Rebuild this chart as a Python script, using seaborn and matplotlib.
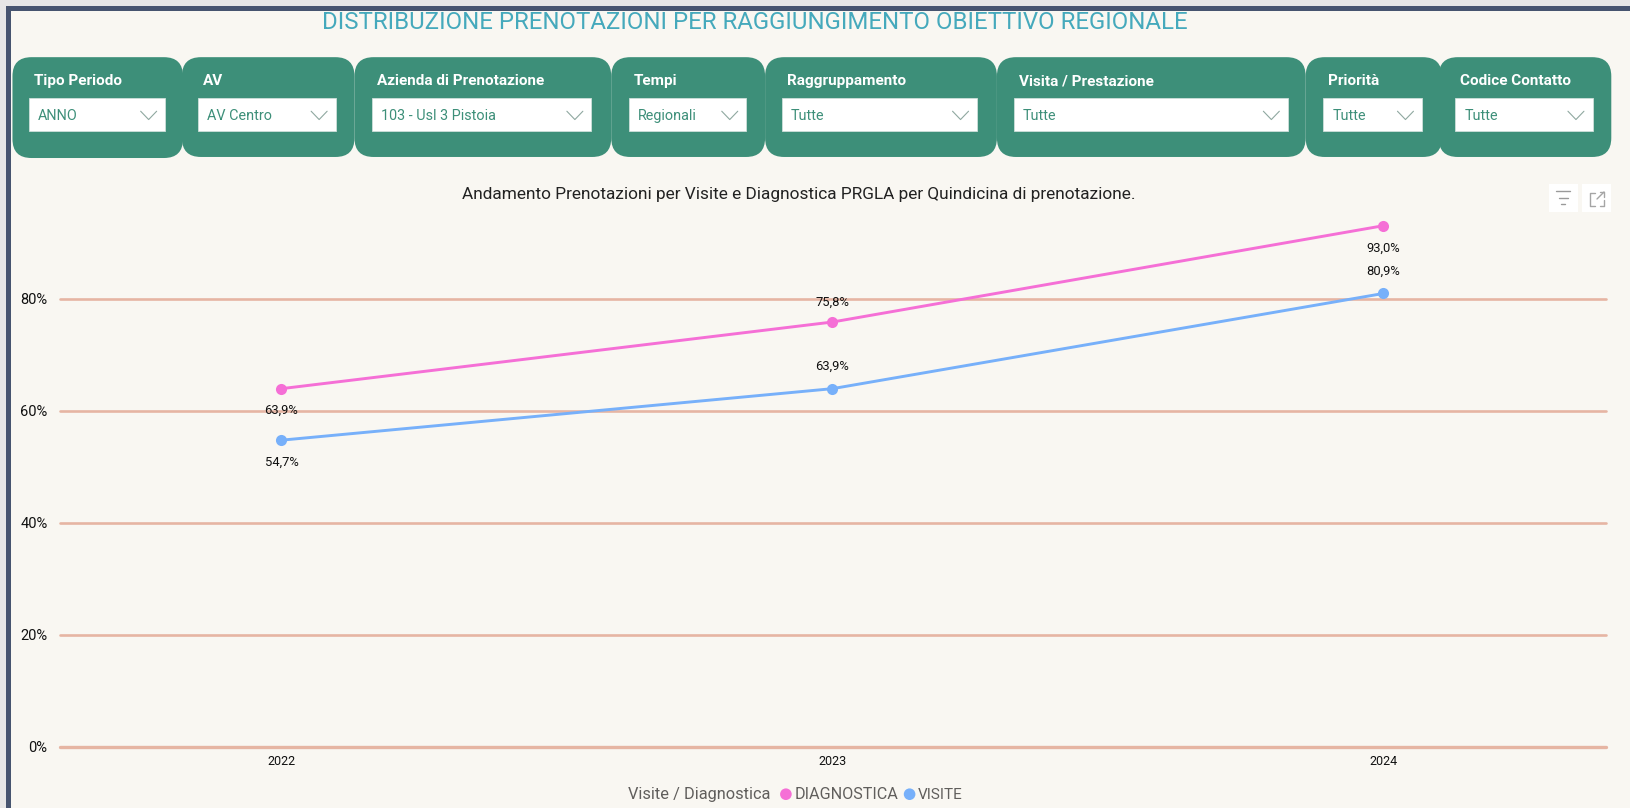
import matplotlib
matplotlib.use('Agg')
import matplotlib.pyplot as plt
from matplotlib.patches import FancyBboxPatch, Rectangle
import pandas as pd
import seaborn as sns

# Values
years = [2022, 2023, 2024]
diagnostica = [63.9, 75.8, 93.0]
visite = [54.7, 63.9, 80.9]
y_ticks = [0, 20, 40, 60, 80]

# Slicer cards: label, value, left, right of card, left, right of white box
slicer_labels = ['Tipo Periodo', 'AV', 'Azienda di Prenotazione', 'Tempi', 'Raggruppamento',
                 'Visita / Prestazione', 'Priorità', 'Codice Contatto']
slicer_values = ['ANNO', 'AV Centro', '103 - Usl 3 Pistoia', 'Regionali', 'Tutte', 'Tutte', 'Tutte', 'Tutte']
card_left = [12, 175, 341, 588, 736, 959, 1256, 1384]
card_right = [176, 341, 588, 736, 959, 1256, 1387, 1550]
box_left = [28, 190, 358, 605, 752, 975, 1273, 1400]
box_right = [159, 323, 569, 718, 940, 1239, 1368, 1532]

BG = '#F9F7F2'
GREEN = '#3D8F79'
PINK = '#F56FD6'
BLUE = '#77B0FA'
S = 1630 / 1568  # coordinates above were read on the 1568 wide view

sns.set_theme(style='white')
plt.rcParams['font.family'] = ['Roboto', 'DejaVu Sans']

fig = plt.figure(figsize=(16.3, 8.08), dpi=100, facecolor=BG)

# overlay in pixels for the report furniture
bg = fig.add_axes([0, 0, 1, 1], zorder=0)
bg.set_xlim(0, 1630)
bg.set_ylim(808, 0)
bg.axis('off')
bg.add_patch(Rectangle((0, 0), 1630, 6, color='#E6E6E6', lw=0))
bg.add_patch(Rectangle((0, 0), 6, 808, color='#E6E6E6', lw=0))
bg.add_patch(Rectangle((6, 6), 1624, 5, color='#46546F', lw=0))
bg.add_patch(Rectangle((6, 6), 5, 802, color='#46546F', lw=0))

bg.text(726.5 * S, 29, 'DISTRIBUZIONE PRENOTAZIONI PER RAGGIUNGIMENTO OBIETTIVO REGIONALE',
        color='#45A9BC', fontsize=17.3, ha='center', va='baseline')
bg.text(768 * S, 191 * S, 'Andamento Prenotazioni per Visite e Diagnostica PRGLA per Quindicina di prenotazione.',
        color='#222222', fontsize=12.4, ha='center', va='baseline')

R = 19
for i in range(len(slicer_labels)):
    x0, x1 = card_left[i] * S, card_right[i] * S
    bottom = 152 if i == 0 else 151
    bg.add_patch(FancyBboxPatch((x0 + R, 55 * S + R), x1 - x0 - 2 * R, (bottom - 55) * S - 2 * R,
                                boxstyle=f'round,pad={R},rounding_size={R}', fc=GREEN, ec='none'))
for i in range(len(slicer_labels)):
    b0, b1 = box_left[i] * S, box_right[i] * S
    bg.add_patch(Rectangle((b0, 94 * S), b1 - b0, 32 * S, fc='white', ec='#CFE0DA', lw=0.6))
    bg.text(b0 + 5, 82 * S, slicer_labels[i], color='white', fontsize=11, fontweight='bold', va='baseline')
    bg.text(b0 + 9, 115 * S, slicer_values[i], color=GREEN, fontsize=10.4, va='baseline')
    cx = b1 - 16 * S
    bg.plot([cx - 8, cx, cx + 8], [107 * S, 115 * S, 107 * S], color='#8FA8A0', lw=0.8)

# little visual header icons
for x in [1490, 1522]:
    bg.add_patch(Rectangle((x * S, 177 * S), 28 * S, 27 * S, fc='white', ec='none'))
for w, y in [(14, 184), (9, 190), (4, 196)]:
    bg.plot([1504 * S - w / 2, 1504 * S + w / 2], [y * S, y * S], color='#9A9A9A', lw=1)
bg.plot([1595, 1590, 1590, 1595], [193, 193, 206, 206], color='#A5A5A5', lw=1)
bg.plot([1600, 1604, 1604], [206, 206, 200], color='#A5A5A5', lw=1)
bg.plot([1597, 1604], [199, 192], color='#A5A5A5', lw=1)
bg.plot([1600, 1604, 1604], [192, 192, 197], color='#A5A5A5', lw=1)

# line chart
ax = fig.add_axes([60 / 1630, (808 - 746.5) / 808, (1606 - 60) / 1630, (746.5 - 200) / 808], zorder=1)
ax.patch.set_alpha(0)
df = pd.DataFrame({
    'Anno': years * 2,
    'Valore': diagnostica + visite,
    'Serie': ['DIAGNOSTICA'] * 3 + ['VISITE'] * 3,
})
sns.lineplot(data=df, x='Anno', y='Valore', hue='Serie', palette={'DIAGNOSTICA': PINK, 'VISITE': BLUE},
             marker='o', markersize=8, markeredgecolor='none', linewidth=2.1, legend=False, ax=ax, zorder=3)
ax.set_xlim(2022 - 0.402, 2024 + 0.404)
ax.set_ylim(0, (746.5 - 200) / 5.6)
ax.set_xticks(years)
ax.set_yticks(y_ticks)
ax.set_xticklabels([str(y) for y in years], fontsize=9, color='#111111')
ax.set_yticklabels([f'{t}%' for t in y_ticks], fontsize=10.5, color='#111111')
ax.tick_params(axis='both', length=0)
ax.tick_params(axis='x', pad=6)
ax.tick_params(axis='y', pad=9)
ax.set_xlabel('')
ax.set_ylabel('')
for spine in ax.spines.values():
    spine.set_visible(False)
for t in y_ticks:
    ax.axhline(t, color='#E6B5A3', lw=2.4 if t == 0 else 1.9, zorder=1, clip_on=False)

# data labels, above or below the point as in the report
diag_off = [-22, 20, -23]
vis_off = [-22, 22, 22]
for x, v, o in zip(years, diagnostica, diag_off):
    ax.annotate(f'{v:.1f}%'.replace('.', ','), (x, v), xytext=(0, o * 0.72), textcoords='offset points',
                ha='center', va='center', fontsize=9.4, color='#111111')
for x, v, o in zip(years, visite, vis_off):
    ax.annotate(f'{v:.1f}%'.replace('.', ','), (x, v), xytext=(0, o * 0.72), textcoords='offset points',
                ha='center', va='center', fontsize=9.4, color='#111111')

# legend
bg.text(604 * S, 769 * S, 'Visite / Diagnostica', color='#605E5C', fontsize=11.8, va='baseline')
bg.scatter([756 * S, 875 * S], [764 * S, 764 * S], s=70, color=[PINK, BLUE], lw=0)
bg.text(764 * S, 769 * S, 'DIAGNOSTICA', color='#605E5C', fontsize=11.6, va='baseline')
bg.text(883 * S, 769 * S, 'VISITE', color='#605E5C', fontsize=11, va='baseline')

fig.savefig('out.png', dpi=100, facecolor=BG)
